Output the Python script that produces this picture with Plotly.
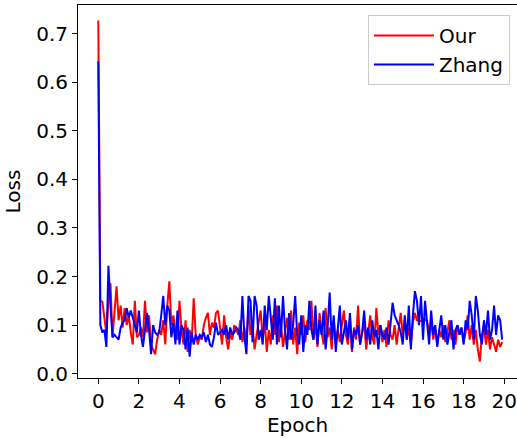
import numpy as np
import plotly.graph_objects as go

# Training loss per logged step (10 logs per epoch)
our_loss = [
    0.727, 0.150, 0.148, 0.118, 0.082, 0.150, 0.186, 0.075, 0.120, 0.180,
    0.110, 0.140, 0.095, 0.135, 0.100, 0.120, 0.085, 0.060, 0.150, 0.075,
    0.080, 0.095, 0.075, 0.150, 0.085, 0.120, 0.060, 0.050, 0.040, 0.070,
    0.090, 0.080, 0.110, 0.060, 0.140, 0.190, 0.100, 0.120, 0.085, 0.070,
    0.150, 0.090, 0.060, 0.110, 0.045, 0.090, 0.065, 0.155, 0.080, 0.060,
    0.075, 0.070, 0.100, 0.115, 0.125, 0.080, 0.105, 0.095, 0.125, 0.130,
    0.090, 0.060, 0.120, 0.075, 0.050, 0.085, 0.070, 0.100, 0.090, 0.080,
    0.110, 0.065, 0.095, 0.060, 0.140, 0.080, 0.100, 0.050, 0.080, 0.105,
    0.130, 0.070, 0.110, 0.045, 0.090, 0.060, 0.120, 0.080, 0.140, 0.065,
    0.100, 0.055, 0.085, 0.115, 0.070, 0.130, 0.060, 0.095, 0.040, 0.105,
    0.080, 0.120, 0.065, 0.110, 0.090, 0.150, 0.070, 0.100, 0.055, 0.125,
    0.085, 0.060, 0.135, 0.075, 0.095, 0.050, 0.110, 0.070, 0.090, 0.065,
    0.100, 0.130, 0.080, 0.060, 0.115, 0.045, 0.095, 0.070, 0.140, 0.060,
    0.085, 0.105, 0.050, 0.090, 0.120, 0.075, 0.060, 0.135, 0.080, 0.100,
    0.065, 0.090, 0.055, 0.110, 0.080, 0.070, 0.100, 0.060, 0.090, 0.125,
    0.080, 0.110, 0.070, 0.095, 0.060, 0.105, 0.125, 0.110, 0.110, 0.108,
    0.110, 0.112, 0.108, 0.085, 0.110, 0.070, 0.095, 0.060, 0.090, 0.075,
    0.100, 0.065, 0.085, 0.110, 0.070, 0.090, 0.060, 0.100, 0.080, 0.095,
    0.065, 0.085, 0.120, 0.070, 0.100, 0.060, 0.090, 0.050, 0.025, 0.080,
    0.100, 0.060, 0.090, 0.050, 0.075, 0.060, 0.045, 0.070, 0.055, 0.065,
]

zhang_loss = [
    0.643, 0.100, 0.085, 0.090, 0.055, 0.222, 0.140, 0.075, 0.080, 0.075,
    0.070, 0.095, 0.105, 0.110, 0.135, 0.115, 0.130, 0.115, 0.100, 0.085,
    0.130, 0.080, 0.055, 0.090, 0.125, 0.090, 0.040, 0.100, 0.085, 0.080,
    0.085, 0.120, 0.160, 0.100, 0.140, 0.130, 0.075, 0.105, 0.060, 0.130,
    0.060, 0.100, 0.090, 0.050, 0.095, 0.035, 0.085, 0.060, 0.080, 0.070,
    0.080, 0.075, 0.085, 0.065, 0.080, 0.060, 0.055, 0.075, 0.105, 0.080,
    0.085, 0.090, 0.080, 0.100, 0.070, 0.095, 0.080, 0.085, 0.095, 0.090,
    0.070, 0.160, 0.075, 0.040, 0.160, 0.150, 0.065, 0.160, 0.140, 0.070,
    0.090, 0.060, 0.140, 0.090, 0.160, 0.110, 0.070, 0.155, 0.060, 0.140,
    0.075, 0.160, 0.090, 0.050, 0.125, 0.070, 0.100, 0.160, 0.080, 0.060,
    0.120, 0.045, 0.100, 0.080, 0.150, 0.090, 0.070, 0.140, 0.060, 0.110,
    0.080, 0.130, 0.050, 0.095, 0.167, 0.070, 0.120, 0.045, 0.100, 0.140,
    0.060, 0.090, 0.110, 0.070, 0.125, 0.050, 0.090, 0.080, 0.100, 0.060,
    0.085, 0.130, 0.070, 0.095, 0.060, 0.110, 0.075, 0.090, 0.050, 0.100,
    0.080, 0.070, 0.095, 0.060, 0.100, 0.146, 0.120, 0.110, 0.100, 0.085,
    0.060, 0.120, 0.070, 0.140, 0.050, 0.120, 0.170, 0.150, 0.100, 0.160,
    0.070, 0.150, 0.110, 0.060, 0.130, 0.080, 0.100, 0.055, 0.090, 0.120,
    0.070, 0.100, 0.060, 0.085, 0.110, 0.050, 0.090, 0.100, 0.080, 0.095,
    0.060, 0.110, 0.090, 0.150, 0.120, 0.070, 0.160, 0.130, 0.080, 0.060,
    0.110, 0.080, 0.130, 0.070, 0.090, 0.140, 0.080, 0.120, 0.110, 0.070,
]

epochs = np.arange(len(our_loss)) / 10.0

fig = go.Figure()
fig.add_trace(go.Scatter(x=epochs, y=our_loss, mode="lines", name="Our",
                         line=dict(color="#ff0000", width=2)))
fig.add_trace(go.Scatter(x=epochs, y=zhang_loss, mode="lines", name="Zhang",
                         line=dict(color="#0000ff", width=2)))

font = dict(family="DejaVu Sans", size=20, color="black")
axis_common = dict(showgrid=False, zeroline=False, showline=True,
                   linecolor="black", linewidth=1, ticks="outside",
                   ticklen=5, tickwidth=1, tickcolor="black",
                   tickfont=font)

fig.update_layout(
    width=517, height=438,
    margin=dict(l=78, r=0, t=5, b=60),
    paper_bgcolor="white", plot_bgcolor="white",
    font=font,
    xaxis=dict(range=[-1, 20.63], dtick=2, tick0=0,
               title=dict(text="Epoch", font=font, standoff=4),
               mirror=True, **axis_common),
    yaxis=dict(range=[-0.0089, 0.759], dtick=0.1, tick0=0, tickformat=".1f",
               title=dict(text="Loss", font=font, standoff=10),
               **axis_common),
    legend=dict(x=0.984, y=0.973, xanchor="right", yanchor="top",
                bgcolor="white", bordercolor="#cccccc", borderwidth=1,
                font=font, itemwidth=60, traceorder="normal"),
)

fig.write_html("out.html")
